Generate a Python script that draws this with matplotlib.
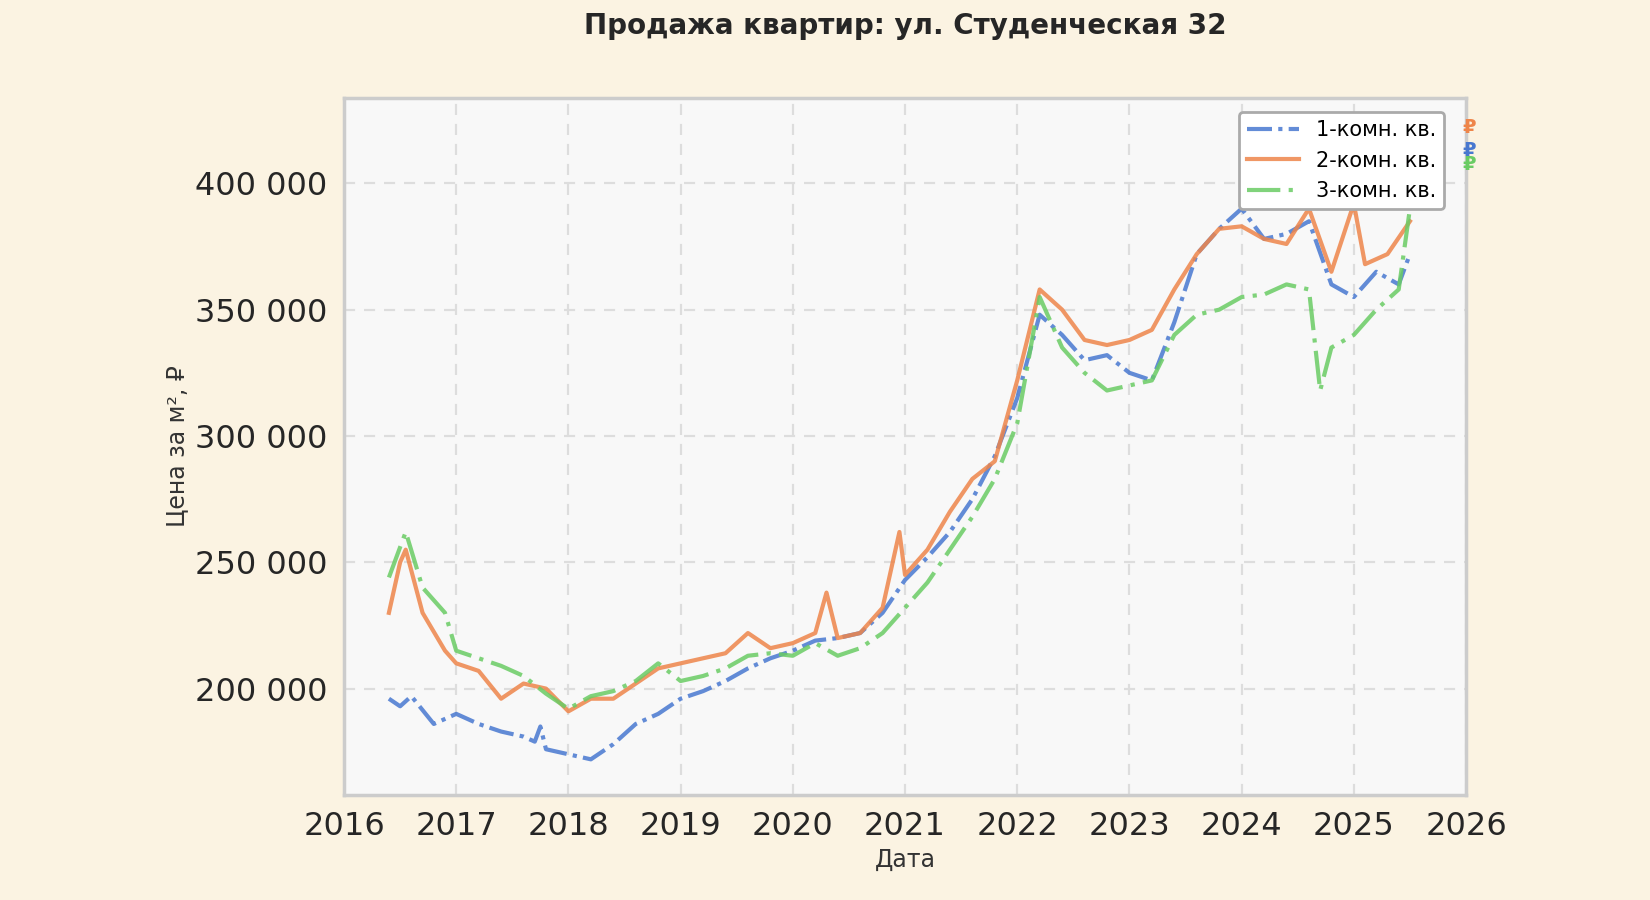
import matplotlib
matplotlib.use("Agg")
import matplotlib.pyplot as plt
from matplotlib.ticker import FuncFormatter

# decimal years, prices per m2
x_1room = [2016.4, 2016.5, 2016.6, 2016.8, 2017.0, 2017.2, 2017.4, 2017.6, 2017.7, 2017.75, 2017.8,
           2018.0, 2018.2, 2018.4, 2018.6, 2018.8, 2019.0, 2019.2, 2019.4, 2019.6, 2019.8,
           2020.0, 2020.2, 2020.4, 2020.6, 2020.8, 2021.0, 2021.2, 2021.4, 2021.6, 2021.8,
           2022.0, 2022.2, 2022.4, 2022.6, 2022.8, 2023.0, 2023.2, 2023.4, 2023.6, 2023.8,
           2024.0, 2024.2, 2024.4, 2024.6, 2024.8, 2025.0, 2025.2, 2025.4, 2025.5]
y_1room = [196000, 193000, 197000, 186000, 190000, 186000, 183000, 181000, 179000, 185000, 176000,
           174000, 172000, 178000, 186000, 190000, 196000, 199000, 203000, 208000, 212000,
           215000, 219000, 220000, 222000, 230000, 243000, 252000, 262000, 275000, 292000,
           315000, 348000, 340000, 330000, 332000, 325000, 322000, 345000, 372000, 382000,
           390000, 378000, 380000, 385000, 360000, 355000, 365000, 360000, 372000]

x_2room = [2016.4, 2016.5, 2016.55, 2016.7, 2016.9, 2017.0, 2017.2, 2017.4, 2017.6, 2017.8,
           2018.0, 2018.2, 2018.4, 2018.6, 2018.8, 2019.0, 2019.2, 2019.4, 2019.6, 2019.8,
           2020.0, 2020.2, 2020.3, 2020.4, 2020.6, 2020.8, 2020.95, 2021.0, 2021.2, 2021.4,
           2021.6, 2021.8, 2022.0, 2022.2, 2022.4, 2022.6, 2022.8, 2023.0, 2023.2, 2023.4,
           2023.6, 2023.8, 2024.0, 2024.2, 2024.4, 2024.6, 2024.8, 2025.0, 2025.1, 2025.3, 2025.5]
y_2room = [230000, 250000, 255000, 230000, 215000, 210000, 207000, 196000, 202000, 200000,
           191000, 196000, 196000, 202000, 208000, 210000, 212000, 214000, 222000, 216000,
           218000, 222000, 238000, 220000, 222000, 232000, 262000, 245000, 255000, 270000,
           283000, 290000, 322000, 358000, 350000, 338000, 336000, 338000, 342000, 358000,
           372000, 382000, 383000, 378000, 376000, 390000, 365000, 392000, 368000, 372000, 385000]

x_3room = [2016.4, 2016.55, 2016.7, 2016.9, 2017.0, 2017.2, 2017.4, 2017.6, 2017.8,
           2018.0, 2018.2, 2018.4, 2018.6, 2018.8, 2019.0, 2019.2, 2019.4, 2019.6, 2019.8,
           2020.0, 2020.2, 2020.4, 2020.6, 2020.8, 2021.0, 2021.2, 2021.4, 2021.6, 2021.8,
           2022.0, 2022.2, 2022.4, 2022.6, 2022.8, 2023.0, 2023.2, 2023.4, 2023.6, 2023.8,
           2024.0, 2024.2, 2024.4, 2024.6, 2024.7, 2024.8, 2025.0, 2025.2, 2025.4, 2025.5]
y_3room = [244000, 262000, 240000, 230000, 215000, 212000, 209000, 205000, 198000,
           192000, 197000, 199000, 203000, 210000, 203000, 205000, 208000, 213000, 214000,
           213000, 218000, 213000, 216000, 222000, 232000, 242000, 255000, 268000, 283000,
           305000, 355000, 335000, 325000, 318000, 320000, 322000, 340000, 348000, 350000,
           355000, 356000, 360000, 358000, 318000, 335000, 340000, 350000, 358000, 390000]

series_labels = ["1-комн. кв.", "2-комн. кв.", "3-комн. кв."]
year_ticks = list(range(2016, 2027))

plt.rcParams['font.family'] = ['DejaVu Sans']
fig = plt.figure(figsize=(16.5, 9), dpi=100, facecolor='#fbf3e2')
ax = fig.add_axes([0.2085, 0.117, 0.68, 0.774], facecolor='#f8f8f8')

ax.plot(x_1room, y_1room, color='#4878d0', lw=3, ls=(0, (6, 1.5, 1, 1.5)), alpha=0.85, label=series_labels[0])
ax.plot(x_2room, y_2room, color='#ee854a', lw=3, ls='-', alpha=0.85, label=series_labels[1])
ax.plot(x_3room, y_3room, color='#6acc64', lw=3, ls=(0, (8, 2, 1, 2)), alpha=0.85, label=series_labels[2])

ax.set_xlim(2016, 2026)
ax.set_ylim(158000, 433750)
ax.set_xticks(year_ticks)
ax.set_yticks([200000, 250000, 300000, 350000, 400000])
ax.yaxis.set_major_formatter(FuncFormatter(lambda v, p: f"{int(v):,}".replace(",", " ")))
ax.tick_params(labelsize=23, length=0, pad=12, labelcolor='#262626')
ax.grid(True, ls=(0, (5, 4)), color='#dddddd', lw=1.6)
for s in ax.spines.values():
    s.set_color('#cccccc')
    s.set_linewidth(2.5)

ax.set_xlabel("Дата", fontsize=17, color='#333333')
ax.set_ylabel("Цена за м², ₽", fontsize=17, color='#333333')
ax.set_title("Продажа квартир: ул. Студенческая 32", fontsize=20, fontweight='bold',
             color='#262626', pad=46)

# end-of-line value tags (mostly hidden under legend in the reference)
for yy, c in [(0.958, '#ee854a'), (0.925, '#4878d0'), (0.905, '#6acc64')]:
    ax.text(1.003, yy, "₽", transform=ax.transAxes, color=c, fontsize=14,
            fontweight='bold', ha='center', va='center', clip_on=False)

leg = ax.legend(loc='upper right', fontsize=15, frameon=True, framealpha=1,
                edgecolor='#aaaaaa', fancybox=True, handlelength=2.5,
                borderaxespad=0.5, bbox_to_anchor=(0.99, 0.995))
leg.get_frame().set_linewidth(2)
leg.set_zorder(5)

fig.savefig("out.png", dpi=100, facecolor=fig.get_facecolor())
